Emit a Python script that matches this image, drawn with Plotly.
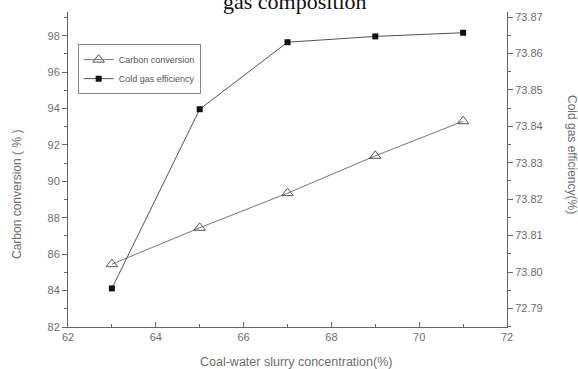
import plotly.graph_objects as go

concentration = [63, 65, 67, 69, 71]
carbon_conversion = [85.45, 87.45, 89.35, 91.4, 93.3]
cold_gas_eff = [73.7955, 73.8447, 73.8631, 73.8647, 73.8657]

x_ticks = [62, 64, 66, 68, 70, 72]
y_ticks = [82, 84, 86, 88, 90, 92, 94, 96, 98]
y2_tickvals = [73.79, 73.80, 73.81, 73.82, 73.83, 73.84, 73.85, 73.86, 73.87]
y2_ticktext = ["72.79", "73.80", "73.81", "73.82", "73.83", "73.84", "73.85", "73.86", "73.87"]

axis_col = "#666666"
text_col = "#6e6e6e"
tick_font = dict(family="Liberation Sans, Arial", size=11, color=text_col)

fig = go.Figure()
fig.add_trace(go.Scatter(
    x=concentration, y=carbon_conversion, name="Carbon conversion",
    mode="lines+markers",
    line=dict(color="#777777", width=1),
    marker=dict(symbol="triangle-up-open", size=10, color="#555555", line=dict(width=1)),
    yaxis="y",
))
fig.add_trace(go.Scatter(
    x=concentration, y=cold_gas_eff, name="Cold gas efficiency",
    mode="lines+markers",
    line=dict(color="#555555", width=1),
    marker=dict(symbol="square", size=6, color="#111111"),
    yaxis="y2",
))

fig.update_layout(
    width=578, height=369,
    margin=dict(l=68, r=71, t=12, b=42),
    paper_bgcolor="white", plot_bgcolor="white",
    showlegend=True,
    legend=dict(
        x=0.022, y=0.898, xanchor="left", yanchor="top",
        bordercolor="#888888", borderwidth=1, bgcolor="white",
        font=dict(family="Liberation Sans, Arial", size=9, color="#555555"),
        itemwidth=30, tracegroupgap=0,
    ),
    xaxis=dict(
        range=[62, 72], tickvals=x_ticks, ticks="inside", ticklen=5,
        tickcolor=axis_col, showline=True, linecolor=axis_col, linewidth=1,
        showgrid=False, zeroline=False, tickfont=tick_font,
        minor=dict(dtick=1, tick0=62, ticks="inside", ticklen=3, tickcolor=axis_col),
    ),
    yaxis=dict(
        range=[82, 99.3], tickvals=y_ticks, ticks="outside", ticklen=5,
        tickcolor=axis_col, showline=True, linecolor=axis_col, linewidth=1,
        showgrid=False, zeroline=False, tickfont=tick_font,
        minor=dict(dtick=1, tick0=82, ticks="outside", ticklen=3, tickcolor=axis_col),
    ),
    yaxis2=dict(
        overlaying="y", side="right",
        range=[73.7849, 73.8714], tickvals=y2_tickvals, ticktext=y2_ticktext,
        ticks="outside", ticklen=5, tickcolor=axis_col,
        showline=True, linecolor=axis_col, linewidth=1,
        showgrid=False, zeroline=False, tickfont=tick_font,
        minor=dict(dtick=0.005, tick0=73.79, ticks="outside", ticklen=3, tickcolor=axis_col),
    ),
    annotations=[
        dict(text="gas composition", xref="paper", yref="paper", x=(295 - 68) / 439, y=1.034,
             xanchor="center", yanchor="middle", showarrow=False,
             font=dict(family="Liberation Serif, Times New Roman", size=22, color="#111111")),
        dict(text="Carbon conversion ( % )", xref="paper", yref="paper", x=(17 - 68) / 439,
             y=(327 - 195) / 315, xanchor="center", yanchor="middle", textangle=-90,
             showarrow=False, font=dict(family="Liberation Sans, Arial", size=12, color=text_col)),
        dict(text="Cold gas efficiency(%)", xref="paper", yref="paper", x=(572 - 68) / 439,
             y=(327 - 154) / 315, xanchor="center", yanchor="middle", textangle=90,
             showarrow=False, font=dict(family="Liberation Sans, Arial", size=12, color=text_col)),
        dict(text="Coal-water slurry concentration(%)", xref="paper", yref="paper",
             x=(296 - 68) / 439, y=(327 - 362) / 315, xanchor="center", yanchor="middle",
             showarrow=False, font=dict(family="Liberation Sans, Arial", size=12.5, color=text_col)),
    ],
)

fig.write_html("out.html")
